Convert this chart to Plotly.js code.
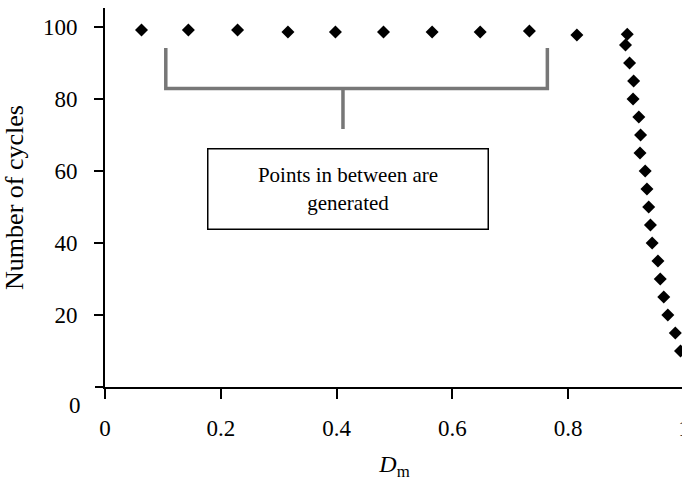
<!DOCTYPE html>
<html>
<head>
<meta charset="utf-8">
<script src="https://cdn.plot.ly/plotly-3.0.1.min.js"></script>
<style>
  html, body { margin: 0; padding: 0; overflow: hidden; background: #fff; }
  #chart { width: 700px; height: 482px; }
</style>
</head>
<body>
<div id="chart"></div>
<script>
// Damage values (D_m) and corresponding number of cycles
const dm = [0.063, 0.144, 0.229, 0.316, 0.398, 0.481, 0.565, 0.648, 0.733, 0.815,
            0.902, 0.899, 0.906, 0.913, 0.912, 0.922, 0.925, 0.924, 0.933, 0.936,
            0.939, 0.942, 0.945, 0.955, 0.959, 0.965, 0.972, 0.985, 0.994];
const cycles = [99.2, 99.2, 99.2, 98.6, 98.6, 98.6, 98.6, 98.6, 98.9, 97.8,
                98, 95, 90, 85, 80, 75, 70, 65, 60, 55,
                50, 45, 40, 35, 30, 25, 20, 15, 10];

const xTickVals = [0, 0.2, 0.4, 0.6, 0.8, 1];
const xTickText = ['0', '0.2', '0.4', '0.6', '0.8', '1'];
const yTickVals = [20, 40, 60, 80, 100];
const yTickText = ['20', '40', '60', '80', '100'];
const yZeroTick = [0];

const serif = 'Liberation Serif, Times New Roman, serif';

const trace = {
  x: dm,
  y: cycles,
  type: 'scatter',
  mode: 'markers',
  marker: { symbol: 'diamond', size: 10, color: '#000' },
  hoverinfo: 'x+y'
};

const layout = {
  width: 700,
  height: 482,
  margin: { l: 105, r: 16, t: 8, b: 95 },
  paper_bgcolor: '#fff',
  plot_bgcolor: '#fff',
  showlegend: false,
  font: { family: serif, color: '#000' },
  xaxis: {
    range: [0, 1],
    tickvals: xTickVals,
    ticktext: xTickText,
    ticks: 'outside',
    ticklen: 10,
    tickwidth: 2,
    tickcolor: '#000',
    showline: true,
    linecolor: '#000',
    linewidth: 2,
    showgrid: false,
    zeroline: false,
    tickfont: { family: serif, size: 23, color: '#000' },
    ticklabelstandoff: 9,
    title: { text: '<i>D</i><sub>m</sub>', font: { family: serif, size: 24, color: '#000' }, standoff: 16 }
  },
  yaxis: {
    range: [0, 105.3],
    tickvals: yTickVals,
    ticktext: yTickText,
    ticks: 'outside',
    ticklen: 9,
    tickwidth: 2,
    tickcolor: '#000',
    showline: true,
    mirror: true,
    linecolor: '#000',
    linewidth: 2,
    showgrid: false,
    zeroline: false,
    tickfont: { family: serif, size: 23, color: '#000' },
    ticklabelstandoff: 12,
    title: { text: 'Number of cycles', font: { family: serif, size: 26, color: '#000' }, standoff: 12 }
  },
  yaxis2: {
    overlaying: 'y',
    side: 'left',
    range: [0, 105.3],
    tickvals: yZeroTick,
    showticklabels: false,
    ticks: 'outside',
    ticklen: 9,
    tickwidth: 2,
    tickcolor: '#000',
    showline: false,
    showgrid: false,
    zeroline: false
  },
  shapes: [
    {
      type: 'path', xref: 'x', yref: 'y',
      path: 'M 0.105,94.2 L 0.105,82.9 L 0.764,82.9 L 0.764,94.2 M 0.411,82.9 L 0.411,71.7',
      line: { color: '#777777', width: 3.5 }
    }
  ],
  annotations: [
    {
      xref: 'x', yref: 'y', x: 0.419, y: 54.9,
      text: 'Points in between are<br>generated',
      showarrow: false,
      font: { family: serif, size: 21, color: '#000' },
      width: 275, height: 75,
      bordercolor: '#000', borderwidth: 1.5, borderpad: 2,
      bgcolor: '#fff', align: 'center'
    },
    {
      xref: 'paper', yref: 'y', x: 0, y: 0,
      xanchor: 'right', yanchor: 'middle',
      xshift: -22, yshift: -18,
      text: '0', showarrow: false,
      font: { family: serif, size: 23, color: '#000' }
    }
  ]
};

const zeroTickTrace = { x: [], y: [], yaxis: 'y2', type: 'scatter', mode: 'markers', hoverinfo: 'skip' };

Plotly.newPlot('chart', [trace, zeroTickTrace], layout, { staticPlot: true, displayModeBar: false });
</script>
</body>
</html>
